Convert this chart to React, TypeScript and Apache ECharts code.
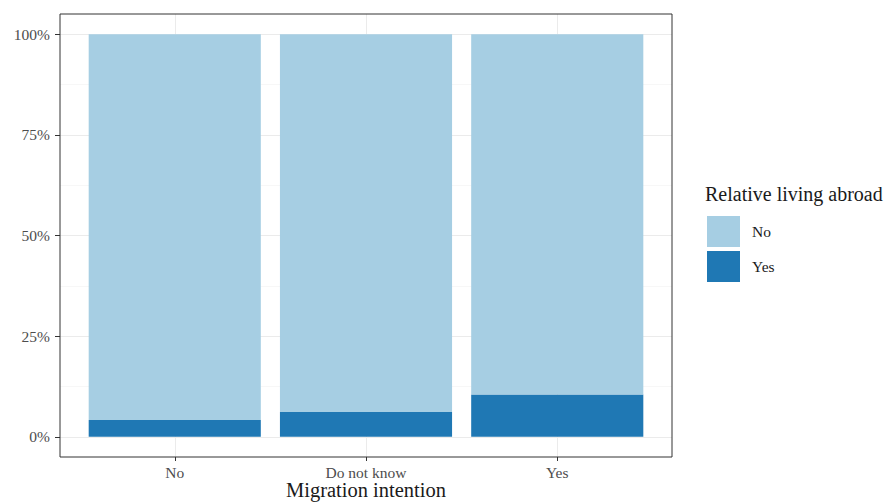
import React, { useEffect, useRef } from "react";
import * as echarts from "echarts";

const categories = ["No", "Do not know", "Yes"];
const relativeYes = [4.2, 6.2, 10.5];
const relativeNo = [95.8, 93.8, 89.5];
const yTicks = [0, 25, 50, 75, 100];

const FONT = "Liberation Serif";
const PANEL = { left: 60, top: 14, width: 612, height: 443 };

export default function App() {
  const ref = useRef<HTMLDivElement>(null);
  useEffect(() => {
    document.body.style.margin = "0";
    const chart = echarts.init(ref.current!, null, { renderer: "svg" });
    // ggplot-like expansion: discrete 0.6 each side, continuous 5%
    const unit = PANEL.width / (categories.length + 0.2);
    const yPad = (PANEL.height / 1.1) * 0.05;
    const inner = { top: PANEL.top + yPad, height: PANEL.height - 2 * yPad };
    const barsLeft = PANEL.left + 0.1 * unit;
    const ptsLeft = PANEL.left + 0.6 * unit;
    const common = { containLabel: false, outerBoundsMode: "none" };
    const grid = [
      // horizontal grid lines + y labels
      { ...common, left: PANEL.left, top: inner.top, width: PANEL.width, height: inner.height },
      // vertical grid lines + x labels
      { ...common, left: ptsLeft, top: PANEL.top, width: unit * (categories.length - 1), height: PANEL.height },
      // bars
      { ...common, left: barsLeft, top: inner.top, width: unit * categories.length, height: inner.height },
    ];
    chart.setOption({
      animation: false,
      grid,
      title: {
        text: "Relative living abroad",
        left: 705,
        top: 184,
        padding: 0,
        textStyle: { fontFamily: FONT, fontSize: 20, fontWeight: "normal", color: "#1a1a1a" },
      },
      legend: {
        data: ["No", "Yes"],
        orient: "vertical",
        left: 707,
        top: 216,
        padding: 0,
        itemWidth: 33,
        itemHeight: 31,
        itemGap: 4,
        icon: "rect",
        textStyle: { fontFamily: FONT, fontSize: 15.5, color: "#1a1a1a", padding: [0, 0, 0, 7] },
      },
      xAxis: [
        { gridIndex: 0, type: "value", show: false, min: 0, max: 1 },
        {
          gridIndex: 1,
          type: "category",
          data: categories,
          boundaryGap: false,
          axisLine: { show: false },
          axisTick: { show: true, length: 4, lineStyle: { color: "#333333" } },
          axisLabel: {
            fontFamily: FONT,
            fontSize: 15.5,
            lineHeight: 14,
            color: "#4D4D4D",
            margin: 8,
          },
          splitLine: { show: true, lineStyle: { color: "#EBEBEB", width: 1 } },
          name: "Migration intention",
          nameLocation: "middle",
          nameGap: 24,
          nameMoveOverlap: false,
          nameTextStyle: { fontFamily: FONT, fontSize: 20.5, lineHeight: 18, color: "#1a1a1a" },
        },
        { gridIndex: 2, type: "category", data: categories, show: false },
      ],
      yAxis: [
        {
          gridIndex: 0,
          type: "value",
          min: 0,
          max: 100,
          interval: 25,
          axisLine: { show: false },
          axisTick: { show: true, length: 5, lineStyle: { color: "#333333" } },
          axisLabel: {
            fontFamily: FONT,
            fontSize: 15.5,
            color: "#4D4D4D",
            margin: 10,
            formatter: (v: number) => (yTicks.includes(v) ? v + "%" : ""),
          },
          splitLine: { show: true, lineStyle: { color: "#EBEBEB", width: 1 } },
          minorTick: { show: false, splitNumber: 2 },
          minorSplitLine: { show: true, lineStyle: { color: "#F2F2F2", width: 0.6 } },
        },
        { gridIndex: 1, type: "value", show: false, min: 0, max: 1 },
        { gridIndex: 2, type: "value", show: false, min: 0, max: 100 },
      ],
      series: [
        {
          name: "Yes",
          type: "bar",
          stack: "share",
          xAxisIndex: 2,
          yAxisIndex: 2,
          barWidth: "90%",
          data: relativeYes,
          itemStyle: { color: "#1F78B4" },
        },
        {
          name: "No",
          type: "bar",
          stack: "share",
          xAxisIndex: 2,
          yAxisIndex: 2,
          barWidth: "90%",
          data: relativeNo,
          itemStyle: { color: "#A6CEE3" },
        },
      ],
      graphic: [
        {
          type: "rect",
          z: 100,
          shape: { x: PANEL.left, y: PANEL.top, width: PANEL.width, height: PANEL.height },
          style: { fill: "none", stroke: "#333333", lineWidth: 1 },
          silent: true,
        },
      ],
    });
    return () => chart.dispose();
  }, []);
  return <div ref={ref} style={{ width: 889, height: 504 }} />;
}
